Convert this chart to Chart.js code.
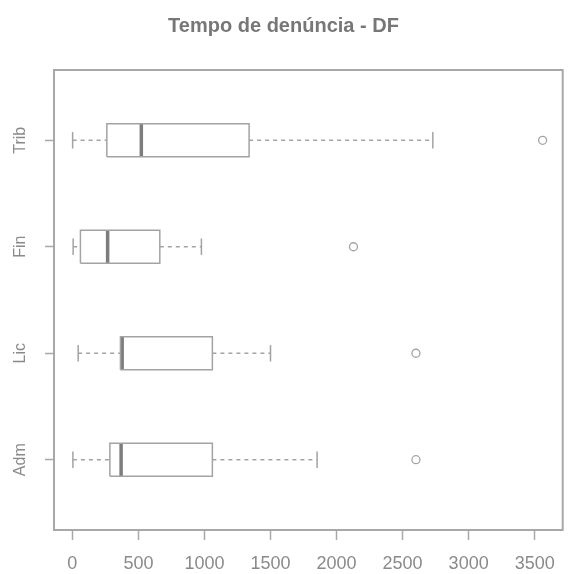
<!DOCTYPE html>
<html>
<head>
<meta charset="utf-8">
<script src="https://cdn.jsdelivr.net/npm/chart.js@4/dist/chart.umd.min.js"></script>
<style>
  body { margin: 0; background: #fff; }
</style>
</head>
<body>
<canvas id="myChart" width="568" height="574"></canvas>
<script>
// categories bottom to top
const categories = ["Adm", "Lic", "Fin", "Trib"];
const whiskerLow = [4, 44, 6, 2];
const q1 = [284, 364, 61, 261];
const median = [369, 377, 267, 522];
const q3 = [1060, 1060, 662, 1338];
const whiskerHigh = [1853, 1500, 977, 2729];
const outliers = [2601, 2601, 2128, 3560];
const xTicks = [0, 500, 1000, 1500, 2000, 2500, 3000, 3500];

const BOX_HALF = 0.155;
const CAP_HALF = 0.078;
const lineColor = "#a3a3a3";
const textColor = "#8a8a8a";
const fontFamily = "'Liberation Sans', Arial, sans-serif";

const datasets = [];
function seg(points, extra) {
  datasets.push(Object.assign({
    data: points,
    showLine: true,
    pointRadius: 0,
    borderColor: lineColor,
    borderWidth: 1.5,
    fill: false,
  }, extra));
}

categories.forEach((name, i) => {
  const y = i + 1;
  // box
  seg([
    { x: q1[i], y: y - BOX_HALF },
    { x: q3[i], y: y - BOX_HALF },
    { x: q3[i], y: y + BOX_HALF },
    { x: q1[i], y: y + BOX_HALF },
    { x: q1[i], y: y - BOX_HALF },
  ]);
  // whiskers
  seg([{ x: whiskerLow[i], y: y }, { x: q1[i], y: y }], { borderDash: [4, 4] });
  seg([{ x: q3[i], y: y }, { x: whiskerHigh[i], y: y }], { borderDash: [4, 4] });
  // caps
  seg([{ x: whiskerLow[i], y: y - CAP_HALF }, { x: whiskerLow[i], y: y + CAP_HALF }]);
  seg([{ x: whiskerHigh[i], y: y - CAP_HALF }, { x: whiskerHigh[i], y: y + CAP_HALF }]);
  // median
  seg([{ x: median[i], y: y - BOX_HALF }, { x: median[i], y: y + BOX_HALF }], {
    borderColor: "#7d7d7d",
    borderWidth: 3.5,
  });
});

datasets.push({
  data: outliers.map((v, i) => ({ x: v, y: i + 1 })),
  showLine: false,
  pointStyle: "circle",
  pointRadius: 4,
  borderWidth: 1.3,
  borderColor: lineColor,
  backgroundColor: "#fff",
});

const framePlugin = {
  id: "frame",
  afterDraw(chart) {
    const { ctx, chartArea, scales } = chart;
    ctx.save();
    ctx.strokeStyle = "#a8a8a8";
    ctx.lineWidth = 2;
    ctx.strokeRect(chartArea.left, chartArea.top, chartArea.right - chartArea.left, chartArea.bottom - chartArea.top);
    // rotated y labels
    ctx.fillStyle = textColor;
    ctx.font = "16px " + fontFamily;
    ctx.textAlign = "center";
    ctx.textBaseline = "middle";
    categories.forEach((name, i) => {
      const py = scales.y.getPixelForValue(i + 1);
      ctx.save();
      ctx.translate(21, py);
      ctx.rotate(-Math.PI / 2);
      ctx.fillText(name, 0, 0);
      ctx.restore();
    });
    ctx.restore();
  },
};

new Chart("myChart", {
  type: "scatter",
  data: { datasets },
  options: {
    responsive: false,
    animation: false,
    layout: { padding: { top: 0, right: 1, bottom: 0, left: 0 } },
    plugins: {
      legend: { display: false },
      tooltip: { enabled: false },
      title: {
        display: true,
        text: "Tempo de denúncia - DF",
        color: "#777",
        font: { size: 20, weight: "bold", family: fontFamily },
        padding: { top: 14, bottom: 32 },
      },
    },
    scales: {
      x: {
        type: "linear",
        min: -139,
        max: 3712,
        afterBuildTicks: (scale) => { scale.ticks = xTicks.map((v) => ({ value: v })); },
        afterFit: (scale) => { scale.height = 44; },
        border: { display: false },
        grid: { drawOnChartArea: false, drawTicks: true, tickLength: 10, tickColor: "#a8a8a8", tickWidth: 1.5 },
        ticks: {
          color: textColor,
          padding: 13,
          maxRotation: 0,
          callback: (v) => String(v),
          font: { size: 18, family: fontFamily },
        },
      },
      y: {
        type: "linear",
        min: 0.34,
        max: 4.66,
        afterBuildTicks: (scale) => { scale.ticks = categories.map((c, i) => ({ value: i + 1 })); },
        afterFit: (scale) => { scale.width = 54; },
        border: { display: false },
        grid: { drawOnChartArea: false, drawTicks: true, tickLength: 9, tickColor: "#a8a8a8", tickWidth: 1.5 },
        ticks: { color: "rgba(0,0,0,0)", callback: () => "" },
      },
    },
  },
  plugins: [framePlugin],
});
</script>
</body>
</html>
